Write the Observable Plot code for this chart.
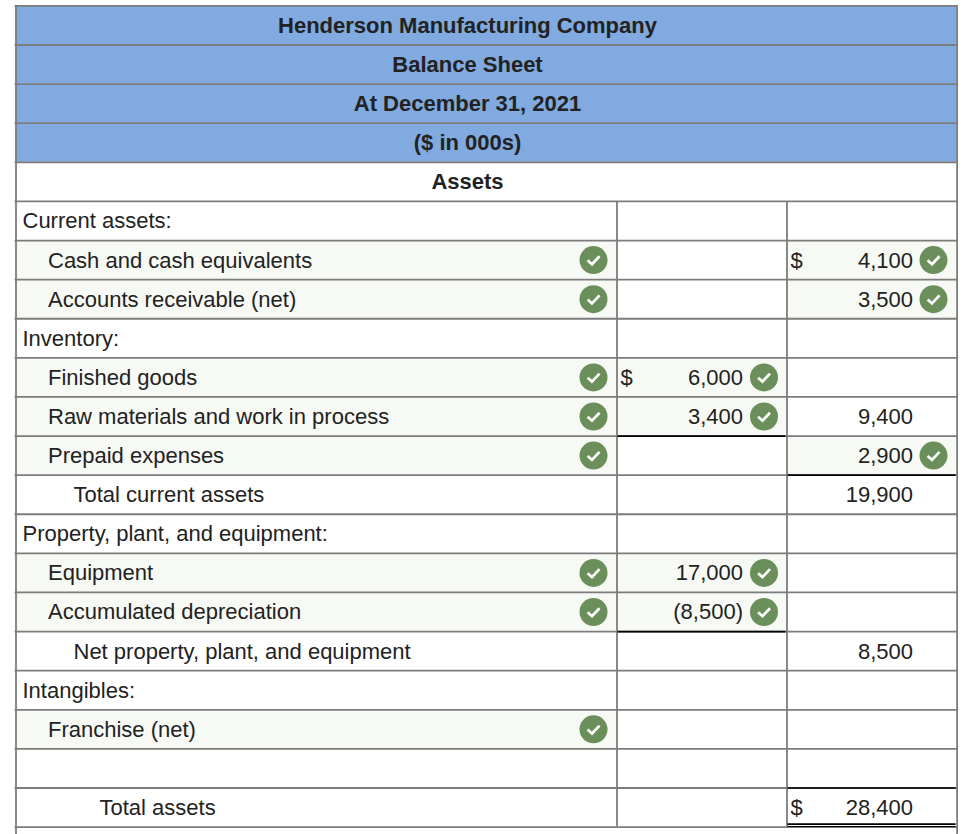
<!DOCTYPE html>
<html>
<head>
<meta charset="utf-8">
<script src="https://cdn.jsdelivr.net/npm/d3@7"></script>
<script src="https://cdn.jsdelivr.net/npm/@observablehq/plot@0.6"></script>
<style>
html,body{margin:0;padding:0;background:#fff;overflow:hidden}
svg{display:block}
</style>
</head>
<body>
<div id="chart"></div>
<script>
// ---- table content ----
const rowLabels = ["Henderson Manufacturing Company","Balance Sheet","At December 31, 2021","($ in 000s)","Assets",
  "Current assets:","Cash and cash equivalents","Accounts receivable (net)","Inventory:","Finished goods",
  "Raw materials and work in process","Prepaid expenses","Total current assets","Property, plant, and equipment:",
  "Equipment","Accumulated depreciation","Net property, plant, and equipment","Intangibles:","Franchise (net)","","Total assets"];
const rowIndents = [0,0,0,0,0, 0,1,1,0,1, 1,1,2,0, 1,1,2,0,1,0,3];
const headerRows = [0,1,2,3];
const titleRows = [0,1,2,3,4];
const labelChecks = [6,7,9,10,11,14,15,18];
const midRows = [9,10,14,15];
const midValues = ["6,000","3,400","17,000","(8,500)"];
const midChecks = [9,10,14,15];
const rightRows = [6,7,10,11,12,16,20];
const rightValues = ["4,100","3,500","9,400","2,900","19,900","8,500","28,400"];
const rightChecks = [6,7,11];
const midDollars = [9];
const rightDollars = [6,20];
const midUnderlines = [10,15];
const rightUnderlines = [11];
const rightTopLines = [20];
const rightDoubleLines = [20];

// ---- layout ----
const nRows = rowLabels.length;
const X = {left:15.5, c1:616.5, c2:786.5, right:956.6, title:467, midNum:742.5, rightNum:912.5, midSign:620, rightSign:790, checkA:593, checkB:763.5, checkC:933};
const indentX = [22,47.5,73,99];
const C = {head:"#80aae0", tint:"#f7f9f5", grid:"#7c7c7c", ink:"#222222", ok:"#6a8f5b", black:"#000000"};
const FS = 22;
const rowsAll = d3.range(nRows);
const bodyRows = rowsAll.filter(r => r >= 5);

const tick = {draw(ctx, size){
  const r = Math.sqrt(size/Math.PI);
  ctx.moveTo(-0.42*r, 0.02*r);
  ctx.lineTo(-0.11*r, 0.30*r);
  ctx.lineTo(0.43*r, -0.27*r);
}};
const checkMarks = (rows, x) => [
  Plot.dot(rows, {x:()=>x, y:r=>r+0.5, r:14, fill:C.ok, stroke:"none"}),
  Plot.dot(rows, {x:()=>x, y:r=>r+0.5, r:14, symbol:tick, fill:"none", stroke:"#fff", strokeWidth:2.7, strokeLinecap:"butt", strokeLinejoin:"miter"})
];
const textOpts = {y:r=>r+0.5, lineAnchor:"middle", fill:C.ink, fontSize:FS, dy:0.4};

const plot = Plot.plot({
  width:972, height:834, margin:0,
  style:{fontFamily:"'Liberation Sans', Arial, sans-serif", background:"#fff"},
  x:{domain:[0,972], range:[0,972], axis:null},
  y:{domain:[0,nRows], range:[5.4,826.6], axis:null},
  marks:[
    // fills
    Plot.rectY(headerRows, {x1:()=>X.left, x2:()=>X.right, y1:r=>r, y2:r=>r+1, fill:C.head}),
    Plot.rectY(labelChecks, {x1:()=>X.left, x2:()=>X.c1, y1:r=>r, y2:r=>r+1, fill:C.tint}),
    Plot.rectY(midChecks, {x1:()=>X.c1, x2:()=>X.c2, y1:r=>r, y2:r=>r+1, fill:C.tint}),
    Plot.rectY(rightChecks, {x1:()=>X.c2, x2:()=>X.right, y1:r=>r, y2:r=>r+1, fill:C.tint}),
    // grid
    Plot.ruleY(d3.range(nRows+1), {y:r=>r, x1:()=>X.left-0.9, x2:()=>X.right+0.9, stroke:C.grid, strokeWidth:1.8}),
    Plot.ruleX([X.left, X.right], {x:d=>d, y1:()=>0, y2:()=>nRows+0.3, stroke:C.grid, strokeWidth:1.8}),
    Plot.ruleX([X.c1, X.c2], {x:d=>d, y1:()=>5, y2:()=>nRows, stroke:C.grid, strokeWidth:1.8}),
    // accounting lines
    Plot.ruleY(midUnderlines, {y:r=>r+1, x1:()=>X.c1+1, x2:()=>X.c2-1, stroke:C.black, strokeWidth:1.7}),
    Plot.ruleY(rightUnderlines, {y:r=>r+1, x1:()=>X.c2+1, x2:()=>X.right-1, stroke:C.black, strokeWidth:1.7}),
    Plot.ruleY(rightTopLines, {y:r=>r, x1:()=>X.c2+1, x2:()=>X.right-1, stroke:C.black, strokeWidth:1.7}),
    Plot.ruleY(rightDoubleLines, {y:r=>r+0.925, x1:()=>X.c2+1, x2:()=>X.right-1, stroke:C.black, strokeWidth:1.7}),
    Plot.ruleY(rightDoubleLines, {y:r=>r+0.985, x1:()=>X.c2+1, x2:()=>X.right-1, stroke:C.black, strokeWidth:1.2}),
    // text
    Plot.text(titleRows, {...textOpts, x:()=>X.title, text:r=>rowLabels[r], textAnchor:"middle", fontWeight:"bold"}),
    Plot.text(bodyRows, {...textOpts, x:r=>indentX[rowIndents[r]], text:r=>rowLabels[r], textAnchor:"start"}),
    Plot.text(midRows, {...textOpts, x:()=>X.midNum, text:(r,i)=>midValues[i], textAnchor:"end"}),
    Plot.text(rightRows, {...textOpts, x:()=>X.rightNum, text:(r,i)=>rightValues[i], textAnchor:"end"}),
    Plot.text(midDollars, {...textOpts, x:()=>X.midSign, text:()=>"$", textAnchor:"start"}),
    Plot.text(rightDollars, {...textOpts, x:()=>X.rightSign, text:()=>"$", textAnchor:"start"}),
    // checks
    ...checkMarks(labelChecks, X.checkA),
    ...checkMarks(midChecks, X.checkB),
    ...checkMarks(rightChecks, X.checkC)
  ]
});
document.getElementById("chart").append(plot);
</script>
</body>
</html>
